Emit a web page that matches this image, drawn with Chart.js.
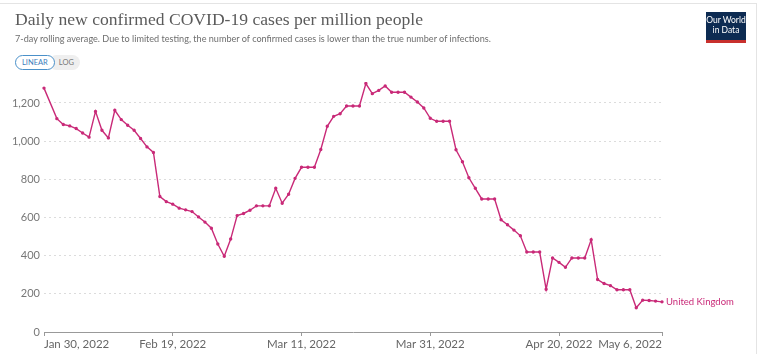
<!DOCTYPE html>
<html>
<head>
<meta charset="utf-8">
<script src="https://cdn.jsdelivr.net/npm/chart.js@4"></script>
<style>
  html, body { margin: 0; padding: 0; background: #fff; }
  body { width: 768px; height: 354px; position: relative; overflow: hidden; font-family: Lato, "Open Sans", sans-serif; }
  #card { position: absolute; left: 0; top: 3px; width: 757px; height: 360px; border: 1px solid #e4e4e4; border-left: none; box-sizing: border-box; }
  #title { position: absolute; left: 15px; top: 9px; font-family: "Liberation Serif", serif; font-size: 17.6px; color: #5b5b5b; white-space: nowrap; }
  #subtitle { position: absolute; left: 15px; top: 33px; font-size: 9.1px; color: #6e6e6e; white-space: nowrap; }
  #btns { position: absolute; left: 15px; top: 55px; height: 15px; display: flex; font-size: 7.5px; }
  #btns span { display: flex; align-items: center; padding: 0 6px; border-radius: 8px; }
  #lin { border: 1px solid #4a90c9; color: #3b7dbb; background: #fff; z-index: 1; }
  #log { background: #efefef; color: #777; margin-left: -6px; padding-left: 10px !important; }
  #logo { position: absolute; left: 706px; top: 12px; width: 40px; height: 31px; background: #0d2b52; color: #fff; font-size: 8.5px; line-height: 10px; text-align: center; box-sizing: border-box; padding-top: 3px; border-bottom: 3px solid #c8302d; }
  #chart { position: absolute; left: 0; top: 0; }
</style>
</head>
<body>
<div id="card"></div>
<canvas id="chart" width="768" height="354"></canvas>
<div id="title">Daily new confirmed COVID-19 cases per million people</div>
<div id="subtitle">7-day rolling average. Due to limited testing, the number of confirmed cases is lower than the true number of infections.</div>
<div id="btns"><span id="lin">LINEAR</span><span id="log">LOG</span></div>
<div id="logo">Our World<br>in Data</div>
<script>
const seriesName = "United Kingdom";
const tickLabels = ["Jan 30, 2022", "Feb 19, 2022", "Mar 11, 2022", "Mar 31, 2022", "Apr 20, 2022", "May 6, 2022"];
const yTicks = [0, 200, 400, 600, 800, 1000, 1200];

// one entry per day, Jan 30 to May 6 2022 (Jan 31 has no value)
const casesPerMillion = [
  1278, null, 1118, 1087, 1080, 1066, 1043, 1021, 1156, 1057,
  1017, 1162, 1113, 1083, 1057, 1014, 970, 941, 710, 683,
  670, 649, 640, 631, 603, 576, 544, 461, 397, 487,
  610, 621, 638, 661, 661, 661, 753, 675, 722, 805,
  863, 863, 863, 956, 1078, 1130, 1144, 1184, 1184, 1184,
  1302, 1249, 1266, 1289, 1256, 1256, 1256, 1231, 1205, 1174,
  1120, 1104, 1104, 1104, 955, 892, 808, 753, 697, 697,
  697, 588, 562, 534, 504, 419, 419, 419, 224, 388,
  365, 339, 388, 388, 388, 483, 275, 254, 243, 221,
  221, 221, 127, 167, 165, 162, 158
];

const days = casesPerMillion.map((v, i) =>
  new Date(Date.UTC(2022, 0, 30 + i)).toLocaleDateString("en-US", { month: "short", day: "numeric", year: "numeric", timeZone: "UTC" })
);

const lineColor = "#c92a78";

// label at the end of the line
const endLabel = {
  id: "endLabel",
  afterDatasetsDraw(chart) {
    const pts = chart.getDatasetMeta(0).data;
    const last = pts[pts.length - 1];
    const ctx = chart.ctx;
    ctx.save();
    ctx.font = "9.5px Lato";
    ctx.fillStyle = lineColor;
    ctx.textBaseline = "middle";
    ctx.fillText(seriesName, last.x + 4, last.y);
    ctx.restore();
  }
};

new Chart(document.getElementById("chart").getContext("2d"), {
  type: "line",
  data: {
    labels: days,
    datasets: [{
      label: seriesName,
      data: casesPerMillion,
      borderColor: lineColor,
      backgroundColor: lineColor,
      borderWidth: 1.4,
      pointRadius: 1,
      pointHoverRadius: 1,
      spanGaps: true,
      tension: 0
    }]
  },
  options: {
    responsive: false,
    animation: false,
    layout: { padding: { left: 0, right: 106, top: 82, bottom: 0 } },
    plugins: {
      legend: { display: false },
      tooltip: { enabled: false }
    },
    scales: {
      x: {
        offset: false,
        afterBuildTicks: axis => {
          axis.ticks = axis.ticks.filter(t => tickLabels.includes(days[t.value]));
        },
        afterFit: axis => { axis.height = 22; },
        ticks: {
          autoSkip: false,
          maxRotation: 0,
          align: "inner",
          padding: 1,
          color: "#666",
          font: { family: "Lato", size: 11.5 },
          callback: function (v) { return days[v]; }
        },
        grid: { drawOnChartArea: false, drawTicks: true, tickLength: 4, color: "#999" },
        border: { display: true, color: "#999" }
      },
      y: {
        min: 0,
        max: 1310,
        afterBuildTicks: axis => { axis.ticks = yTicks.map(v => ({ value: v })); },
        afterFit: axis => { axis.width = 44; },
        ticks: {
          padding: 4,
          color: "#777",
          font: { family: "Lato", size: 11 },
          callback: v => v.toLocaleString("en-US")
        },
        grid: {
          drawTicks: false,
          color: ctx => ctx.tick && ctx.tick.value === 0 ? "rgba(0,0,0,0)" : "#dcdcdc"
        },
        border: { display: false, dash: [2, 3] }
      }
    }
  },
  plugins: [endLabel]
});
</script>
</body>
</html>
